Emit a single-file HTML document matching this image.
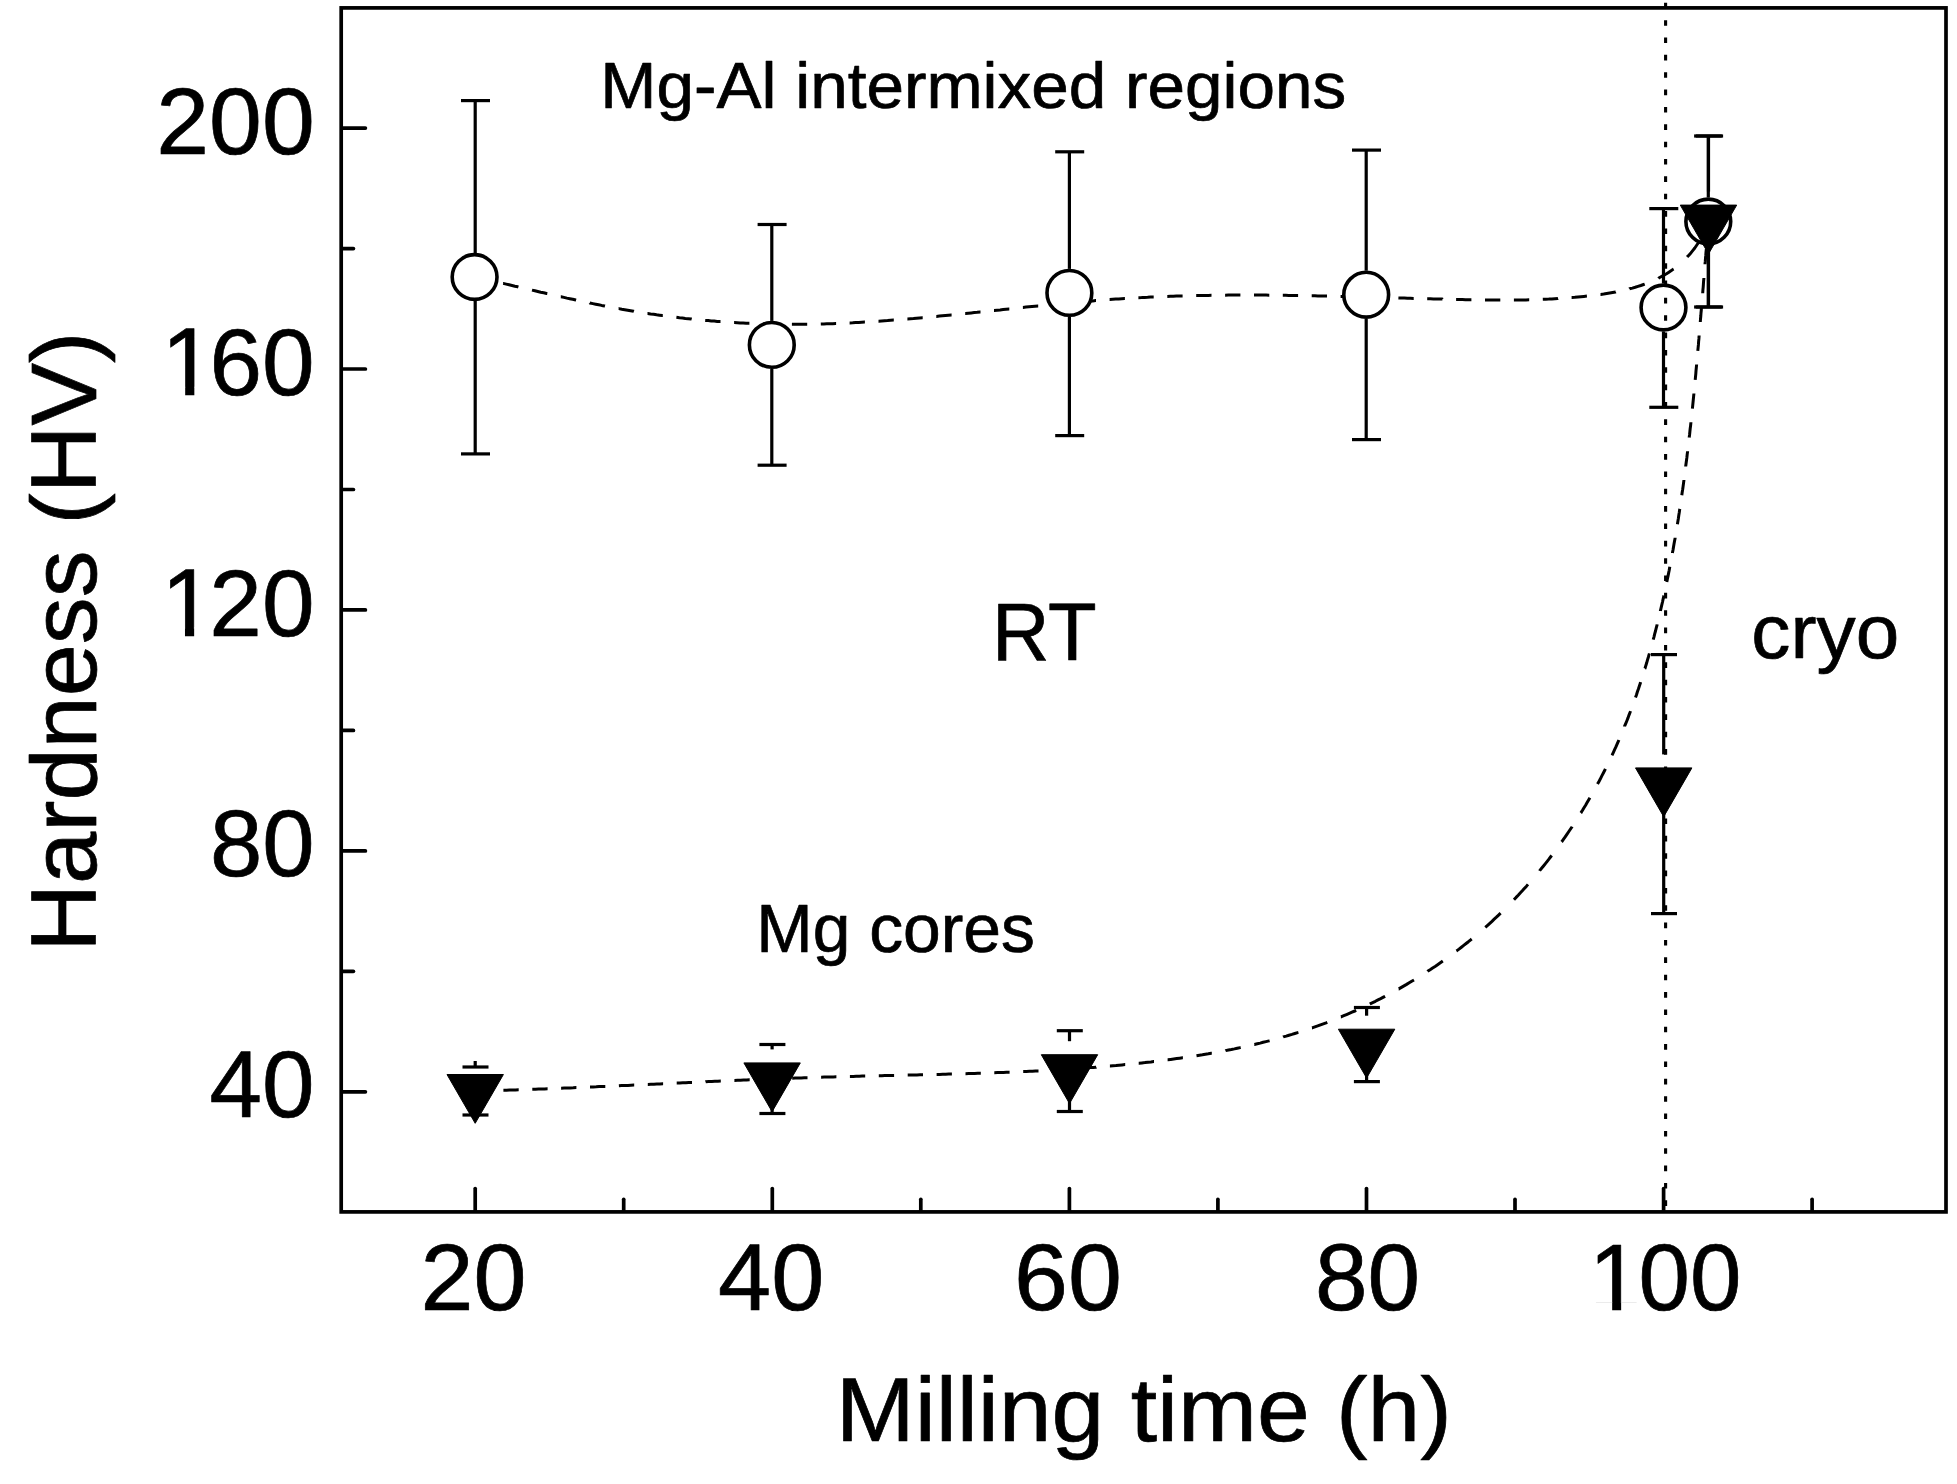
<!DOCTYPE html>
<html><head><meta charset="utf-8"><title>Hardness vs milling time</title>
<style>
html,body{margin:0;padding:0;background:#fff;}
svg{display:block}
text{font-family:"Liberation Sans",sans-serif;fill:#000;stroke:#000;stroke-linejoin:round}
.t92{font-size:91.8px}
.t79{font-size:79px}
.t66{font-size:66.5px}
.tk{stroke:#000;stroke-width:3.7;stroke-linecap:round}
.eb{stroke:#000;stroke-width:3.2;stroke-linecap:butt}
.dash{fill:none;stroke:#000;stroke-width:3.0;stroke-linecap:butt;stroke-linejoin:round}
</style></head><body>
<svg width="1957" height="1484" viewBox="0 0 1957 1484">
<rect width="1957" height="1484" fill="#fff"/>
<rect x="341.2" y="7.9" width="1604.8" height="1204.0" fill="none" stroke="#000" stroke-width="3.7"/>
<line x1="342.2" y1="128.1" x2="365.4" y2="128.1" class="tk"/>
<line x1="342.2" y1="248.6" x2="353.4" y2="248.6" class="tk"/>
<line x1="342.2" y1="369.0" x2="365.4" y2="369.0" class="tk"/>
<line x1="342.2" y1="489.5" x2="353.4" y2="489.5" class="tk"/>
<line x1="342.2" y1="609.9" x2="365.4" y2="609.9" class="tk"/>
<line x1="342.2" y1="730.4" x2="353.4" y2="730.4" class="tk"/>
<line x1="342.2" y1="850.9" x2="365.4" y2="850.9" class="tk"/>
<line x1="342.2" y1="971.3" x2="353.4" y2="971.3" class="tk"/>
<line x1="342.2" y1="1091.8" x2="365.4" y2="1091.8" class="tk"/>
<line x1="475.2" y1="1210.9" x2="475.2" y2="1188.5" class="tk"/>
<line x1="772.3" y1="1210.9" x2="772.3" y2="1188.5" class="tk"/>
<line x1="1069.4" y1="1210.9" x2="1069.4" y2="1188.5" class="tk"/>
<line x1="1366.5" y1="1210.9" x2="1366.5" y2="1188.5" class="tk"/>
<line x1="1663.6" y1="1210.9" x2="1663.6" y2="1188.5" class="tk"/>
<line x1="623.7" y1="1210.9" x2="623.7" y2="1199.3000000000002" class="tk"/>
<line x1="920.8" y1="1210.9" x2="920.8" y2="1199.3000000000002" class="tk"/>
<line x1="1217.9" y1="1210.9" x2="1217.9" y2="1199.3000000000002" class="tk"/>
<line x1="1515.0" y1="1210.9" x2="1515.0" y2="1199.3000000000002" class="tk"/>
<line x1="1812.1" y1="1210.9" x2="1812.1" y2="1199.3000000000002" class="tk"/>
<path d="M475.0,277.0 L475.2,277.1 L478.2,277.7 L481.1,278.4 L484.0,279.0 L486.9,279.7 L489.5,280.3 M503.1,283.4 L503.2,283.4 L506.2,284.1 L509.1,284.8 L512.0,285.5 L514.9,286.2 L517.8,286.8 L518.4,287.0 M532.0,290.1 L532.0,290.1 L534.9,290.8 L537.8,291.5 L540.7,292.2 L543.7,292.8 L546.6,293.5 L547.3,293.6 M560.8,296.7 L561.0,296.7 L563.9,297.4 L566.9,298.1 L569.8,298.7 L572.7,299.3 L575.7,300.0 L576.1,300.1 M589.7,302.9 L589.8,303.0 L592.8,303.6 L595.7,304.2 L598.7,304.8 L601.6,305.4 L604.6,305.9 L605.0,306.0 M618.6,308.6 L618.8,308.6 L621.8,309.2 L624.7,309.7 L627.7,310.2 L630.6,310.7 L633.6,311.2 L633.9,311.3 M647.5,313.4 L647.7,313.4 L650.6,313.9 L653.6,314.3 L656.6,314.8 L659.5,315.2 L662.5,315.6 L662.8,315.6 M676.4,317.3 L676.4,317.3 L679.4,317.7 L682.4,318.0 L685.3,318.4 L688.3,318.7 L691.3,319.0 L691.7,319.1 M705.2,320.4 L705.2,320.4 L708.2,320.6 L711.2,320.9 L714.2,321.1 L717.2,321.4 L720.2,321.6 L720.5,321.6 M734.1,322.5 L734.2,322.5 L737.2,322.7 L740.1,322.9 L743.1,323.0 L746.1,323.2 L749.1,323.3 L749.4,323.3 M763.0,323.9 L763.1,323.9 L766.1,323.9 L769.1,324.0 L772.1,324.1 L775.1,324.2 L778.1,324.2 L778.3,324.2 M791.9,324.3 L792.1,324.3 L795.1,324.3 L798.1,324.3 L801.1,324.3 L804.1,324.3 L807.1,324.3 L807.2,324.3 M820.8,324.0 L820.8,324.0 L823.8,323.9 L826.8,323.8 L829.8,323.8 L832.8,323.7 L835.8,323.5 L836.1,323.5 M849.6,322.9 L849.7,322.9 L852.7,322.8 L855.7,322.6 L858.7,322.5 L861.7,322.3 L864.7,322.1 L864.9,322.1 M878.5,321.2 L878.6,321.2 L881.6,321.0 L884.6,320.8 L887.6,320.6 L890.6,320.3 L893.6,320.1 L893.8,320.1 M907.4,319.0 L907.5,319.0 L910.5,318.7 L913.5,318.5 L916.5,318.2 L919.5,317.9 L922.5,317.7 L922.7,317.7 M936.3,316.4 L936.4,316.4 L939.4,316.1 L942.4,315.8 L945.4,315.5 L948.4,315.2 L951.3,314.9 L951.6,314.9 M965.2,313.5 L965.3,313.5 L968.3,313.2 L971.3,312.9 L974.2,312.6 L977.2,312.3 L980.2,311.9 L980.5,311.9 M994.0,310.5 L994.1,310.5 L997.1,310.2 L1000.1,309.9 L1003.1,309.5 L1006.1,309.2 L1009.1,308.9 L1009.3,308.9 M1022.9,307.5 L1023.0,307.5 L1026.0,307.1 L1029.0,306.8 L1032.0,306.5 L1035.0,306.2 L1038.0,305.9 L1038.2,305.9 M1051.8,304.6 L1051.9,304.5 L1054.9,304.3 L1057.9,304.0 L1060.9,303.7 L1063.8,303.4 L1066.8,303.1 L1067.1,303.1 M1080.7,301.9 L1080.8,301.9 L1083.8,301.6 L1086.8,301.4 L1089.8,301.1 L1092.7,300.9 L1095.7,300.6 L1096.0,300.6 M1109.6,299.6 L1109.7,299.6 L1112.7,299.3 L1115.7,299.1 L1118.7,298.9 L1121.7,298.7 L1124.7,298.5 L1124.9,298.5 M1138.4,297.7 L1138.6,297.7 L1141.6,297.6 L1144.6,297.4 L1147.6,297.3 L1150.6,297.1 L1153.6,297.0 L1153.7,297.0 M1167.3,296.4 L1167.3,296.4 L1170.3,296.3 L1173.3,296.2 L1176.3,296.1 L1179.3,296.0 L1182.3,295.9 L1182.6,295.9 M1196.2,295.6 L1196.3,295.6 L1199.3,295.5 L1202.3,295.5 L1205.3,295.4 L1208.3,295.4 L1211.3,295.3 L1211.5,295.3 M1225.1,295.2 L1225.3,295.2 L1228.3,295.1 L1231.3,295.1 L1234.3,295.1 L1237.3,295.1 L1240.3,295.1 L1240.4,295.1 M1254.0,295.1 L1254.1,295.1 L1257.1,295.1 L1260.1,295.1 L1263.1,295.1 L1266.1,295.1 L1269.1,295.2 L1269.3,295.2 M1282.8,295.3 L1282.8,295.3 L1285.8,295.3 L1288.8,295.4 L1291.8,295.4 L1294.9,295.5 L1297.9,295.5 L1298.1,295.5 M1311.7,295.7 L1311.9,295.7 L1314.9,295.8 L1317.9,295.9 L1320.9,295.9 L1323.9,296.0 L1326.9,296.1 L1327.0,296.1 M1340.6,296.4 L1340.6,296.4 L1343.6,296.4 L1346.6,296.5 L1349.6,296.6 L1352.6,296.7 L1355.6,296.7 L1355.9,296.8 M1369.5,297.1 L1369.6,297.1 L1372.6,297.2 L1375.6,297.3 L1378.6,297.4 L1381.6,297.5 L1384.6,297.5 L1384.8,297.5 M1398.4,297.9 L1398.4,297.9 L1401.4,298.0 L1404.4,298.1 L1407.4,298.2 L1410.4,298.3 L1413.4,298.4 L1413.7,298.4 M1427.2,298.7 L1427.4,298.7 L1430.4,298.8 L1433.4,298.9 L1436.4,299.0 L1439.4,299.1 L1442.4,299.1 L1442.5,299.2 M1456.1,299.5 L1456.4,299.5 L1459.4,299.6 L1462.4,299.6 L1465.4,299.7 L1468.3,299.8 L1471.3,299.8 L1471.4,299.8 M1485.0,300.0 L1485.1,300.0 L1488.1,300.1 L1491.1,300.1 L1494.1,300.1 L1497.1,300.1 L1500.1,300.1 L1500.3,300.1 M1513.9,300.1 L1514.0,300.1 L1517.0,300.0 L1520.0,300.0 L1523.0,299.9 L1526.0,299.9 L1529.0,299.8 L1529.2,299.8 M1542.8,299.3 L1542.8,299.3 L1545.8,299.2 L1548.8,299.1 L1551.8,298.9 L1554.8,298.7 L1557.8,298.6 L1558.1,298.5 M1571.6,297.5 L1571.8,297.5 L1574.8,297.3 L1577.9,297.0 L1580.9,296.7 L1583.9,296.4 L1586.9,296.1 L1586.9,296.1 M1600.5,294.4 L1600.7,294.4 L1603.7,294.0 L1606.7,293.5 L1609.7,293.0 L1612.6,292.5 L1615.6,292.0 L1615.8,291.9 M1629.4,288.9 L1629.5,288.8 L1632.4,288.1 L1635.2,287.3 L1638.0,286.4 L1640.8,285.5 L1643.6,284.5 L1644.7,284.1 M1658.3,278.3 L1658.4,278.2 L1661.0,276.8 L1663.6,275.4 L1666.1,274.0 L1668.5,272.4 L1671.0,270.8 L1673.4,269.1 L1673.6,269.0 M1687.1,257.1 L1687.1,257.1 L1689.1,254.9 L1691.1,252.7 L1692.9,250.4 L1694.8,248.0 L1696.5,245.5 L1698.2,243.0 L1698.9,241.8 M1705.8,228.3 L1705.8,228.2 L1707.0,225.1 L1708.1,222.0 L1708.3,221.5" class="dash"/>
<path d="M475.2,1091.0 L475.5,1091.0 L478.5,1090.9 L481.5,1090.9 L484.5,1090.8 L487.5,1090.7 L489.8,1090.6 M503.4,1090.3 L503.5,1090.3 L506.5,1090.2 L509.5,1090.1 L512.5,1090.0 L515.5,1089.9 L518.5,1089.8 L518.7,1089.8 M532.3,1089.3 L532.5,1089.3 L535.5,1089.2 L538.5,1089.1 L541.5,1089.0 L544.5,1088.9 L547.5,1088.8 L547.6,1088.8 M561.1,1088.2 L561.2,1088.2 L564.2,1088.1 L567.2,1088.0 L570.2,1087.9 L573.2,1087.8 L576.2,1087.6 L576.4,1087.6 M590.0,1087.0 L590.2,1087.0 L593.2,1086.9 L596.2,1086.8 L599.2,1086.6 L602.2,1086.5 L605.2,1086.4 L605.3,1086.4 M618.9,1085.8 L618.9,1085.8 L621.9,1085.6 L624.9,1085.5 L627.9,1085.4 L630.9,1085.2 L633.9,1085.1 L634.2,1085.1 M647.8,1084.4 L647.9,1084.4 L650.9,1084.3 L653.9,1084.2 L656.9,1084.0 L659.9,1083.9 L662.9,1083.7 L663.1,1083.7 M676.7,1083.1 L676.8,1083.1 L679.8,1082.9 L682.8,1082.8 L685.8,1082.7 L688.8,1082.5 L691.8,1082.4 L692.0,1082.4 M705.5,1081.8 L705.8,1081.7 L708.8,1081.6 L711.8,1081.5 L714.8,1081.3 L717.8,1081.2 L720.8,1081.1 L720.8,1081.1 M734.4,1080.5 L734.5,1080.5 L737.5,1080.3 L740.5,1080.2 L743.5,1080.1 L746.5,1080.0 L749.5,1079.8 L749.7,1079.8 M763.3,1079.3 L763.5,1079.3 L766.5,1079.1 L769.5,1079.0 L772.5,1078.9 L775.5,1078.8 L778.4,1078.7 L778.6,1078.7 M792.2,1078.2 L792.2,1078.2 L795.2,1078.1 L798.2,1078.0 L801.2,1077.9 L804.2,1077.8 L807.2,1077.7 L807.5,1077.7 M821.1,1077.2 L821.2,1077.2 L824.2,1077.1 L827.2,1077.0 L830.2,1077.0 L833.2,1076.9 L836.2,1076.8 L836.4,1076.8 M849.9,1076.4 L850.2,1076.4 L853.2,1076.4 L856.2,1076.3 L859.2,1076.2 L862.2,1076.1 L865.2,1076.1 L865.2,1076.1 M878.8,1075.8 L878.9,1075.8 L881.9,1075.7 L884.9,1075.6 L887.9,1075.6 L890.9,1075.5 L893.9,1075.4 L894.1,1075.4 M907.7,1075.1 L907.9,1075.1 L910.9,1075.0 L913.9,1075.0 L916.9,1074.9 L919.9,1074.8 L922.9,1074.8 L923.0,1074.8 M936.6,1074.4 L936.7,1074.4 L939.7,1074.4 L942.7,1074.3 L945.7,1074.2 L948.7,1074.1 L951.7,1074.1 L951.9,1074.1 M965.5,1073.7 L965.7,1073.7 L968.7,1073.6 L971.7,1073.5 L974.7,1073.4 L977.7,1073.3 L980.7,1073.2 L980.8,1073.2 M994.3,1072.7 L994.4,1072.7 L997.4,1072.6 L1000.4,1072.5 L1003.4,1072.4 L1006.4,1072.3 L1009.4,1072.2 L1009.6,1072.2 M1023.2,1071.6 L1023.4,1071.6 L1026.4,1071.4 L1029.4,1071.3 L1032.4,1071.2 L1035.4,1071.0 L1038.4,1070.9 L1038.5,1070.9 M1052.1,1070.1 L1052.2,1070.1 L1055.2,1069.9 L1058.1,1069.8 L1061.1,1069.6 L1064.1,1069.4 L1067.1,1069.2 L1067.4,1069.2 M1081.0,1068.3 L1081.1,1068.3 L1084.1,1068.1 L1087.1,1067.8 L1090.1,1067.6 L1093.1,1067.4 L1096.1,1067.2 L1096.3,1067.1 M1109.9,1066.0 L1110.0,1066.0 L1113.0,1065.7 L1116.0,1065.5 L1119.0,1065.2 L1122.0,1064.9 L1125.0,1064.6 L1125.2,1064.6 M1138.7,1063.2 L1138.9,1063.2 L1141.9,1062.9 L1144.9,1062.6 L1147.9,1062.2 L1150.9,1061.9 L1153.8,1061.5 L1154.0,1061.5 M1167.6,1059.8 L1167.8,1059.8 L1170.7,1059.4 L1173.7,1059.0 L1176.7,1058.6 L1179.7,1058.2 L1182.6,1057.8 L1182.9,1057.8 M1196.5,1055.7 L1196.5,1055.7 L1199.5,1055.2 L1202.4,1054.8 L1205.4,1054.3 L1208.3,1053.8 L1211.3,1053.2 L1211.8,1053.2 M1225.4,1050.7 L1225.6,1050.6 L1228.5,1050.0 L1231.4,1049.5 L1234.4,1048.9 L1237.3,1048.2 L1240.2,1047.6 L1240.7,1047.5 M1254.3,1044.5 L1254.4,1044.5 L1257.3,1043.8 L1260.2,1043.1 L1263.1,1042.3 L1266.0,1041.6 L1268.9,1040.9 L1269.6,1040.7 M1283.1,1037.0 L1283.3,1036.9 L1286.2,1036.1 L1289.0,1035.2 L1291.9,1034.4 L1294.8,1033.5 L1297.6,1032.6 L1298.4,1032.4 M1312.0,1027.9 L1312.1,1027.9 L1314.9,1026.9 L1317.7,1025.9 L1320.5,1024.8 L1323.3,1023.8 L1326.1,1022.8 L1327.3,1022.3 M1340.9,1016.9 L1341.0,1016.9 L1343.8,1015.7 L1346.5,1014.6 L1349.3,1013.4 L1352.0,1012.2 L1354.8,1011.0 L1356.2,1010.4 M1369.8,1004.0 L1370.0,1003.9 L1372.7,1002.6 L1375.4,1001.3 L1378.0,999.9 L1380.7,998.6 L1383.4,997.2 L1385.1,996.3 M1398.7,988.9 L1398.8,988.9 L1401.4,987.4 L1404.0,985.9 L1406.6,984.4 L1409.2,982.8 L1411.7,981.3 L1414.0,980.0 M1427.5,971.4 L1427.6,971.3 L1430.1,969.7 L1432.6,968.0 L1435.1,966.4 L1437.6,964.7 L1440.0,963.0 L1442.5,961.2 L1442.8,961.0 M1456.4,951.0 L1456.6,950.9 L1459.0,949.1 L1461.4,947.2 L1463.7,945.4 L1466.1,943.5 L1468.4,941.7 L1470.7,939.8 L1471.7,939.0 M1485.3,927.3 L1485.3,927.3 L1487.6,925.3 L1489.8,923.3 L1492.0,921.3 L1494.2,919.2 L1496.4,917.2 L1498.6,915.1 L1500.6,913.2 M1514.0,899.7 L1514.1,899.6 L1516.1,897.4 L1518.2,895.2 L1520.2,893.0 L1522.3,890.8 L1524.3,888.6 L1526.3,886.4 L1528.0,884.4 M1539.6,870.8 L1539.7,870.6 L1541.6,868.3 L1543.5,866.0 L1545.4,863.6 L1547.2,861.3 L1549.1,858.9 L1550.9,856.5 L1551.7,855.5 M1561.6,841.9 L1561.7,841.8 L1563.4,839.4 L1565.2,836.9 L1566.9,834.4 L1568.5,832.0 L1570.2,829.5 L1571.9,827.0 L1572.1,826.6 M1580.8,813.0 L1580.9,812.9 L1582.5,810.3 L1584.0,807.7 L1585.6,805.2 L1587.1,802.6 L1588.6,800.0 L1589.9,797.7 M1597.5,784.1 L1597.5,784.1 L1599.0,781.4 L1600.4,778.8 L1601.7,776.1 L1603.1,773.5 L1604.5,770.8 L1605.4,768.8 M1612.0,755.3 L1612.1,755.1 L1613.4,752.3 L1614.6,749.6 L1615.9,746.9 L1617.1,744.1 L1618.3,741.4 L1618.9,740.0 M1624.6,726.4 L1624.6,726.2 L1625.8,723.4 L1626.9,720.7 L1628.0,717.9 L1629.0,715.1 L1630.1,712.3 L1630.5,711.1 M1635.5,697.5 L1635.5,697.5 L1636.5,694.7 L1637.4,691.8 L1638.4,689.0 L1639.3,686.2 L1640.3,683.3 L1640.6,682.2 M1644.9,668.6 L1645.0,668.5 L1645.8,665.7 L1646.7,662.8 L1647.5,659.9 L1648.4,657.0 L1649.2,654.2 L1649.4,653.3 M1653.2,639.7 L1653.2,639.7 L1654.0,636.8 L1654.7,633.9 L1655.5,631.0 L1656.2,628.1 L1657.0,625.2 L1657.1,624.4 M1660.4,610.9 L1660.4,610.8 L1661.1,607.9 L1661.8,604.9 L1662.5,602.0 L1663.1,599.1 L1663.8,596.2 L1663.9,595.6 M1666.8,582.0 L1666.8,582.0 L1667.4,579.0 L1668.0,576.1 L1668.6,573.1 L1669.2,570.2 L1669.7,567.2 L1669.8,566.7 M1672.4,553.1 L1672.4,553.0 L1673.0,550.0 L1673.5,547.1 L1674.0,544.1 L1674.5,541.2 L1675.1,538.2 L1675.1,537.8 M1677.4,524.2 L1677.4,524.2 L1677.9,521.2 L1678.4,518.2 L1678.8,515.3 L1679.3,512.3 L1679.7,509.4 L1679.8,508.9 M1681.8,495.3 L1681.8,495.3 L1682.2,492.3 L1682.7,489.3 L1683.1,486.4 L1683.5,483.4 L1683.9,480.4 L1683.9,480.0 M1685.7,466.5 L1685.7,466.3 L1686.1,463.3 L1686.5,460.3 L1686.9,457.4 L1687.2,454.4 L1687.6,451.4 L1687.6,451.2 M1689.2,437.6 L1689.2,437.5 L1689.6,434.5 L1689.9,431.5 L1690.2,428.5 L1690.6,425.6 L1690.9,422.6 L1690.9,422.3 M1692.4,408.7 L1692.4,408.7 L1692.7,405.7 L1693.0,402.7 L1693.3,399.7 L1693.6,396.7 L1693.9,393.7 L1693.9,393.4 M1695.2,379.8 L1695.2,379.8 L1695.5,376.8 L1695.8,373.8 L1696.0,370.8 L1696.3,367.8 L1696.6,364.8 L1696.6,364.5 M1697.8,350.9 L1697.8,350.9 L1698.1,347.9 L1698.4,344.9 L1698.6,341.9 L1698.9,338.9 L1699.1,335.9 L1699.1,335.6 M1700.3,322.1 L1700.3,322.0 L1700.5,319.0 L1700.8,316.0 L1701.0,313.0 L1701.3,310.0 L1701.5,307.0 L1701.6,306.8 M1702.7,293.2 L1702.7,293.1 L1702.9,290.1 L1703.2,287.1 L1703.4,284.1 L1703.6,281.1 L1703.9,278.1 L1703.9,277.9 M1705.0,264.3 L1705.0,264.2 L1705.3,261.2 L1705.5,258.2 L1705.8,255.2 L1706.0,252.2 L1706.3,249.3 L1706.3,249.0 M1707.4,235.4 L1707.4,235.3 L1707.7,232.3 L1707.9,229.4 L1708.2,226.4 L1708.4,223.4 L1708.6,221.4" class="dash"/>
<line x1="475.2" y1="100.6" x2="475.2" y2="253.0" class="eb"/><line x1="461.0" y1="100.6" x2="490.0" y2="100.6" class="eb"/><line x1="475.2" y1="301.0" x2="475.2" y2="453.9" class="eb"/><line x1="461.0" y1="453.9" x2="490.0" y2="453.9" class="eb"/>
<line x1="771.8" y1="224.5" x2="771.8" y2="320.9" class="eb"/><line x1="757.5999999999999" y1="224.5" x2="786.5999999999999" y2="224.5" class="eb"/><line x1="771.8" y1="368.9" x2="771.8" y2="465.2" class="eb"/><line x1="757.5999999999999" y1="465.2" x2="786.5999999999999" y2="465.2" class="eb"/>
<line x1="1069.4" y1="151.8" x2="1069.4" y2="268.9" class="eb"/><line x1="1055.2" y1="151.8" x2="1084.2" y2="151.8" class="eb"/><line x1="1069.4" y1="316.9" x2="1069.4" y2="435.6" class="eb"/><line x1="1055.2" y1="435.6" x2="1084.2" y2="435.6" class="eb"/>
<line x1="1366.2" y1="150.1" x2="1366.2" y2="270.7" class="eb"/><line x1="1352.0" y1="150.1" x2="1381.0" y2="150.1" class="eb"/><line x1="1366.2" y1="318.7" x2="1366.2" y2="439.6" class="eb"/><line x1="1352.0" y1="439.6" x2="1381.0" y2="439.6" class="eb"/>
<line x1="1663.5" y1="208.6" x2="1663.5" y2="283.5" class="eb"/><line x1="1649.3" y1="208.6" x2="1678.3" y2="208.6" class="eb"/><line x1="1663.5" y1="331.5" x2="1663.5" y2="407.3" class="eb"/><line x1="1649.3" y1="407.3" x2="1678.3" y2="407.3" class="eb"/>
<line x1="1708.3" y1="136.0" x2="1708.3" y2="197.5" class="eb"/><line x1="1694.1" y1="136.0" x2="1723.1" y2="136.0" class="eb"/><line x1="1708.3" y1="245.5" x2="1708.3" y2="307.0" class="eb"/><line x1="1694.1" y1="307.0" x2="1723.1" y2="307.0" class="eb"/>
<line x1="475.2" y1="1067.0" x2="475.2" y2="1061.0" class="eb"/><line x1="462.5" y1="1067.0" x2="488.5" y2="1067.0" class="eb"/><line x1="475.2" y1="1119.0" x2="475.2" y2="1115.0" class="eb"/><line x1="462.5" y1="1115.0" x2="488.5" y2="1115.0" class="eb"/>
<line x1="772.1" y1="1044.5" x2="772.1" y2="1049.4" class="eb"/><line x1="759.4" y1="1044.5" x2="785.4" y2="1044.5" class="eb"/><line x1="772.1" y1="1107.4" x2="772.1" y2="1113.5" class="eb"/><line x1="759.4" y1="1113.5" x2="785.4" y2="1113.5" class="eb"/>
<line x1="1069.5" y1="1030.7" x2="1069.5" y2="1041.2" class="eb"/><line x1="1056.8" y1="1030.7" x2="1082.8" y2="1030.7" class="eb"/><line x1="1069.5" y1="1099.2" x2="1069.5" y2="1111.5" class="eb"/><line x1="1056.8" y1="1111.5" x2="1082.8" y2="1111.5" class="eb"/>
<line x1="1366.6" y1="1007.5" x2="1366.6" y2="1015.7" class="eb"/><line x1="1353.8999999999999" y1="1007.5" x2="1379.8999999999999" y2="1007.5" class="eb"/><line x1="1366.6" y1="1073.7" x2="1366.6" y2="1081.6" class="eb"/><line x1="1353.8999999999999" y1="1081.6" x2="1379.8999999999999" y2="1081.6" class="eb"/>
<line x1="1663.7" y1="654.6" x2="1663.7" y2="754.4" class="eb"/><line x1="1651.0" y1="654.6" x2="1677.0" y2="654.6" class="eb"/><line x1="1663.7" y1="812.4" x2="1663.7" y2="913.6" class="eb"/><line x1="1651.0" y1="913.6" x2="1677.0" y2="913.6" class="eb"/>
<line x1="1708.5" y1="136.0" x2="1708.5" y2="191.6" class="eb"/><line x1="1695.8" y1="136.0" x2="1721.8" y2="136.0" class="eb"/><line x1="1708.5" y1="249.6" x2="1708.5" y2="307.0" class="eb"/><line x1="1695.8" y1="307.0" x2="1721.8" y2="307.0" class="eb"/>
<circle cx="474.6" cy="277.0" r="22.4" fill="#fff" stroke="#000" stroke-width="3.6"/>
<circle cx="771.8" cy="344.9" r="22.4" fill="#fff" stroke="#000" stroke-width="3.6"/>
<circle cx="1069.4" cy="292.9" r="22.4" fill="#fff" stroke="#000" stroke-width="3.6"/>
<circle cx="1366.2" cy="294.7" r="22.4" fill="#fff" stroke="#000" stroke-width="3.6"/>
<circle cx="1663.5" cy="307.5" r="22.4" fill="#fff" stroke="#000" stroke-width="3.6"/>
<circle cx="1708.3" cy="221.5" r="22.4" fill="#fff" stroke="#000" stroke-width="3.6"/>
<polygon points="447.0,1074.5 503.4,1074.5 475.2,1123.3" fill="#000" stroke="#000" stroke-width="1" stroke-linejoin="round"/>
<polygon points="743.9,1062.9 800.3,1062.9 772.1,1111.7" fill="#000" stroke="#000" stroke-width="1" stroke-linejoin="round"/>
<polygon points="1041.3,1054.7 1097.7,1054.7 1069.5,1103.5" fill="#000" stroke="#000" stroke-width="1" stroke-linejoin="round"/>
<polygon points="1338.4,1029.2 1394.8,1029.2 1366.6,1078.0" fill="#000" stroke="#000" stroke-width="1" stroke-linejoin="round"/>
<polygon points="1635.5,767.9 1691.9,767.9 1663.7,816.7" fill="#000" stroke="#000" stroke-width="1" stroke-linejoin="round"/>
<polygon points="1680.3,205.1 1736.7,205.1 1708.5,253.9" fill="#000" stroke="#000" stroke-width="1" stroke-linejoin="round"/>
<line x1="1665.6" y1="2.8" x2="1665.6" y2="1211.9" stroke="#000" stroke-width="3.1" stroke-dasharray="5.6 11.755"/>
<text transform="translate(156.30,153.60) scale(1.0016,1)" font-size="94.79" stroke-width="0.7">200</text>
<text transform="translate(209.92,876.40) scale(0.9925,1)" font-size="94.79" stroke-width="0.7">80</text>
<text transform="translate(209.59,1116.60) scale(0.9957,1)" font-size="94.79" stroke-width="0.7">40</text>
<g transform="translate(161.42,395.00) scale(0.9973,1)"><text stroke-width="0.7"><tspan font-size="95.93">1</tspan><tspan font-size="94.79" dx="-5.21">60</tspan></text><rect x="3.84" y="-8.19" width="19.98" height="10.19" fill="#fff"/><rect x="33.01" y="-8.19" width="18.23" height="10.19" fill="#fff"/></g>
<g transform="translate(161.19,635.60) scale(0.9984,1)"><text stroke-width="0.7"><tspan font-size="95.93">1</tspan><tspan font-size="94.79" dx="-5.13">20</tspan></text><rect x="3.84" y="-8.19" width="19.98" height="10.19" fill="#fff"/><rect x="33.01" y="-8.19" width="18.23" height="10.19" fill="#fff"/></g>
<text transform="translate(420.58,1310.01) scale(1.0161,1)" font-size="93.80" stroke-width="0.7">20</text>
<text transform="translate(718.06,1310.01) scale(1.0173,1)" font-size="93.80" stroke-width="0.7">40</text>
<text transform="translate(1013.90,1310.01) scale(1.0349,1)" font-size="93.80" stroke-width="0.7">60</text>
<text transform="translate(1314.99,1310.01) scale(1.0081,1)" font-size="93.80" stroke-width="0.7">80</text>
<g transform="translate(1588.94,1310.31) scale(0.9813,1)"><text stroke-width="0.7"><tspan font-size="95.36">1</tspan><tspan font-size="94.23" dx="-2.56">00</tspan></text><rect x="3.81" y="-8.15" width="19.86" height="10.15" fill="#fff"/><rect x="32.82" y="-8.15" width="18.12" height="10.15" fill="#fff"/></g>
<text transform="translate(835.67,1440.79) scale(1.0393,1)" font-size="91.23" stroke-width="0.7">Milling time (h)</text>
<text transform="translate(600.25,108.04) scale(1.0411,1)" font-size="64.81" stroke-width="0.7">Mg-Al intermixed regions</text>
<text transform="translate(756.33,951.72) scale(0.9994,1)" font-size="67.78" stroke-width="0.7">Mg cores</text>
<text transform="translate(991.98,659.85) scale(0.9824,1)" font-size="81.01" stroke-width="0.7">RT</text>
<text transform="translate(1751.33,657.63) scale(1.0264,1)" font-size="76.27" stroke-width="0.7">cryo</text>
<text transform="translate(95.92,951.65) rotate(-90) scale(1.0134,1)" font-size="92.51" stroke-width="0.7">Hardness (HV)</text>
</svg>
</body></html>
